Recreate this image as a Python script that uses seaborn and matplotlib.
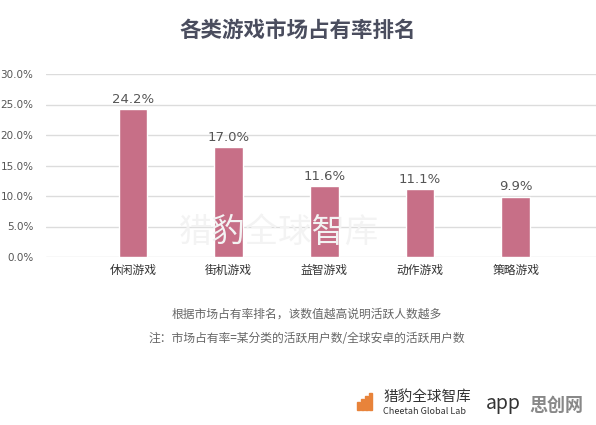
import matplotlib
matplotlib.use("Agg")
import matplotlib.pyplot as plt
import pandas as pd
import seaborn as sns

# --- data ---
categories = ["休闲游戏", "街机游戏", "益智游戏", "动作游戏", "策略游戏"]
bar_heights = [24.2, 18.0, 11.6, 11.1, 9.9]
value_labels = ["24.2%", "17.0%", "11.6%", "11.1%", "9.9%"]
y_ticks = [0, 5, 10, 15, 20, 25, 30]

title = "各类游戏市场占有率排名"
note_1 = "根据市场占有率排名，该数值越高说明活跃人数越多"
note_2 = "注：市场占有率=某分类的活跃用户数/全球安卓的活跃用户数"

sns.set_theme(style="white")
plt.rcParams["font.family"] = ["Noto Sans CJK SC", "DejaVu Sans"]

df = pd.DataFrame({"cat": categories, "share": bar_heights})

fig = plt.figure(figsize=(5.96, 4.25), dpi=100)
ax = fig.add_axes([46 / 596, 1 - 257 / 425, 550 / 596, 183 / 425])

sns.barplot(data=df, x="cat", y="share", color="#c76f87", width=0.3,
            saturation=1, ax=ax, zorder=3)

ax.set_ylim(0, 30)
ax.set_xlim(-0.91, 4.84)
ax.set_yticks(y_ticks)
ax.set_yticklabels([f"{t:.1f}%" for t in y_ticks], fontsize=7.5,
                   color="#555555", family=["DejaVu Sans"])
ax.yaxis.grid(True, color="#dcdcdc", linewidth=1, zorder=0)
ax.tick_params(axis="y", length=0, pad=9)
ax.tick_params(axis="x", length=0, pad=5, labelsize=8.5, labelcolor="#333333")
ax.set_xlabel("")
ax.set_ylabel("")
for s in ax.spines.values():
    s.set_visible(False)

for i, (h, lab) in enumerate(zip(bar_heights, value_labels)):
    ax.text(i, h + 0.6, lab, ha="center", va="bottom", fontsize=9.5,
            color="#555555", family=["DejaVu Sans"])

# title and notes
fig.text(0.5, 1 - 30 / 425, title, ha="center", va="center", fontsize=15.5,
         fontweight="bold", color="#4a4d5e")
fig.text(0.515, 1 - 314 / 425, note_1, ha="center", va="center",
         fontsize=8.5, color="#666666")
fig.text(0.515, 1 - 338 / 425, note_2, ha="center", va="center",
         fontsize=8.5, color="#666666")

# faint watermark behind the bars
fig.text(0.30, 1 - 232 / 425, "猎豹全球智库", fontsize=24, color="#f3f3f3",
         va="center", zorder=0)

# logo at bottom right
for k, hgt in enumerate([8, 11, 14, 17]):
    fig.patches.append(plt.Rectangle(((357 + k * 4) / 596, 1 - 410 / 425),
                                     2.5 / 596, hgt / 425, color="#e8833a",
                                     transform=fig.transFigure))
fig.text(383 / 596, 1 - 397 / 425, "猎豹全球智库", fontsize=10.5,
         color="#333333", va="center")
fig.text(383 / 596, 1 - 411 / 425, "Cheetah Global Lab", fontsize=6.5,
         color="#333333", va="center")
fig.text(486 / 596, 1 - 403 / 425, "app", fontsize=14, color="#333333",
         va="center")
fig.text(529 / 596, 1 - 405 / 425, "思创网", fontsize=13, color="#888888",
         va="center", fontweight="bold")

fig.savefig("out.png", dpi=100)
